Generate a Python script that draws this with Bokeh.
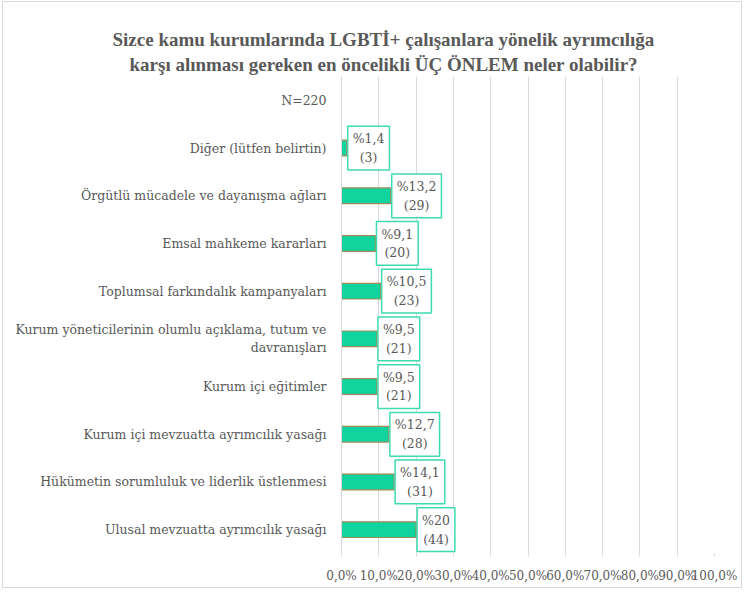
from bokeh.plotting import figure
from bokeh.models import FactorRange, Range1d, FixedTicker, Title
from bokeh.core.properties import value
from bokeh.embed import file_html
from bokeh.resources import INLINE

title_lines = ["Sizce kamu kurumlarında LGBTİ+ çalışanlara yönelik ayrımcılığa",
               "karşı alınması gereken en öncelikli ÜÇ ÖNLEM neler olabilir?"]

# top to bottom
categories = [
    "N=220",
    "Diğer (lütfen belirtin)",
    "Örgütlü mücadele ve dayanışma ağları",
    "Emsal mahkeme kararları",
    "Toplumsal farkındalık kampanyaları",
    "Kurum yöneticilerinin olumlu açıklama, tutum ve\ndavranışları",
    "Kurum içi eğitimler",
    "Kurum içi mevzuatta ayrımcılık yasağı",
    "Hükümetin sorumluluk ve liderlik üstlenmesi",
    "Ulusal mevzuatta ayrımcılık yasağı",
]
percents = [None, 1.4, 13.2, 9.1, 10.5, 9.5, 9.5, 12.7, 14.1, 20]
counts = [None, 3, 29, 20, 23, 21, 21, 28, 31, 44]
xticks = [0, 10, 20, 30, 40, 50, 60, 70, 80, 90, 100]
xtick_labels = ["0,0%", "10,0%", "20,0%", "30,0%", "40,0%", "50,0%",
                "60,0%", "70,0%", "80,0%", "90,0%", "100,0%"]

GRAY = "#595959"
GREEN = "#11d39e"
SERIF = "DejaVu Serif"

p = figure(width=740, height=587, output_backend="svg", toolbar_location=None,
           y_range=FactorRange(factors=categories[::-1]),
           x_range=Range1d(0, 100),
           min_border_left=338, min_border_right=29, min_border_top=74, min_border_bottom=36,
           styles={"position": "absolute", "left": "2px", "top": "1px",
                   "border": "1px solid #d9d9d9"})
p.outline_line_color = None
p.background_fill_color = "white"
p.border_fill_color = "white"

bar_cats = [c for c, v in zip(categories, percents) if v is not None]
bar_vals = [v for v in percents if v is not None]
bar_counts = [n for n in counts if n is not None]
labels = ["%" + f"{v:g}".replace(".", ",") + "\n(" + str(n) + ")" for v, n in zip(bar_vals, bar_counts)]

p.hbar(y=bar_cats, right=bar_vals, left=0, height=0.33, fill_color=GREEN,
       line_color="#a08a5a", line_width=1.2)

p.text(x=bar_vals, y=bar_cats, text=labels, x_offset=1, anchor="center_left",
       text_align="center", text_baseline="middle",
       text_font=value(SERIF), text_font_size="12.5px", text_color=GRAY,
       text_line_height=1.25,
       background_fill_color="white", border_line_color="#3ddbb0", border_line_width=1.5,
       padding=5)

# axes
p.xaxis.ticker = FixedTicker(ticks=xticks)
p.xaxis.major_label_overrides = {t: l for t, l in zip(xticks, xtick_labels)}
p.xaxis.axis_line_color = None
p.xaxis.major_tick_line_color = "#d9d9d9"
p.xaxis.major_tick_in = 0
p.xaxis.major_tick_out = 3
p.xaxis.minor_tick_line_color = None
p.xaxis.major_label_standoff = 12
p.xaxis.major_label_text_font = SERIF
p.xaxis.major_label_text_font_size = "12px"
p.xaxis.major_label_text_color = GRAY

p.yaxis.axis_line_color = "#d9d9d9"
p.yaxis.major_tick_line_color = None
p.yaxis.minor_tick_line_color = None
p.yaxis.major_label_standoff = 9
p.yaxis.major_label_text_font = SERIF
p.yaxis.major_label_text_font_size = "12.5px"
p.yaxis.major_label_text_color = GRAY

p.xgrid.grid_line_color = "#d9d9d9"
p.ygrid.grid_line_color = None

# title: two left-anchored lines, offsets place each line's centre near the chart centre
title_offsets = [-229, -212]
for line, off, so in list(zip(title_lines, title_offsets, [0, 4]))[::-1]:
    p.add_layout(Title(text=line, align="left", offset=off, standoff=so,
                       text_font="Liberation Serif", text_font_style="bold",
                       text_font_size="19px", text_color=GRAY), "above")

open("out.html", "w").write(file_html(p, INLINE))
